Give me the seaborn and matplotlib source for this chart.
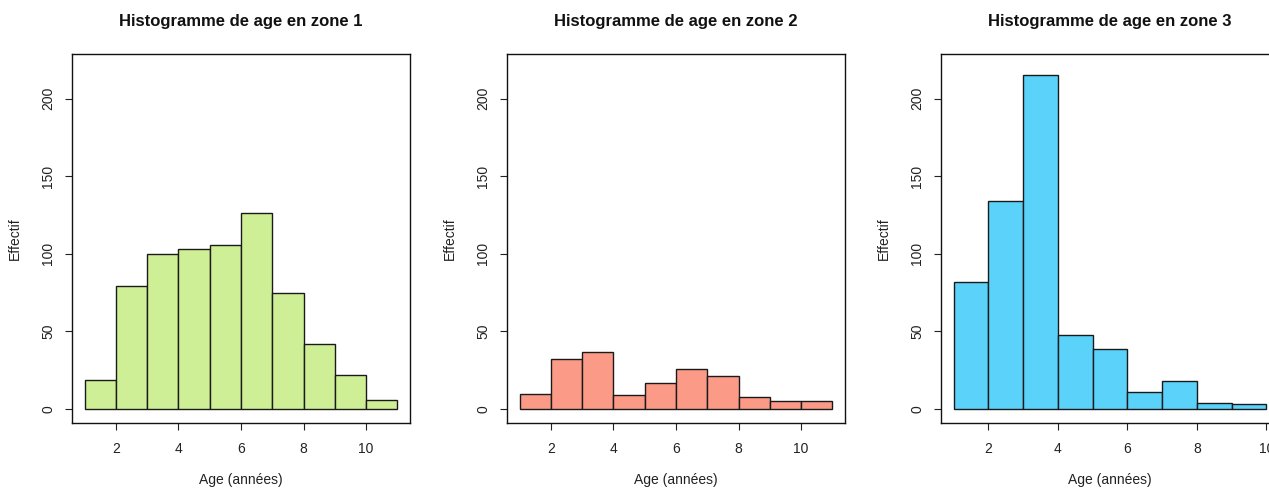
import numpy as np
import pandas as pd
import matplotlib
matplotlib.use("Agg")
import matplotlib.pyplot as plt
import seaborn as sns

# Data
edges_z1 = [1, 2, 3, 4, 5, 6, 7, 8, 9, 10, 11]
counts_z1 = [19, 79, 100, 103, 106, 126, 75, 42, 22, 6]
edges_z2 = [1, 2, 3, 4, 5, 6, 7, 8, 9, 10, 11]
counts_z2 = [10, 32, 37, 9, 17, 26, 21, 8, 5, 5]
edges_z3 = [1, 2, 3, 4, 5, 6, 7, 8, 9, 10]
counts_z3 = [82, 134, 215, 48, 39, 11, 18, 4, 3]
zones = ["1", "2", "3"]
colors = ["#CFEF96", "#FA9A87", "#5AD2FA"]
x_ticks = [2, 4, 6, 8, 10]
y_ticks = [0, 50, 100, 150, 200]

sns.set_style("ticks")
plt.rcParams['font.family'] = ['Liberation Sans', 'DejaVu Sans']

fig = plt.figure(figsize=(12.69, 4.90), dpi=100)
W, H = 1269.0, 490.0
lefts = [72, 507, 941]
width_px = 338
bottom = 1 - 422.7 / H
height = 368.8 / H

datasets = [(edges_z1, counts_z1), (edges_z2, counts_z2), (edges_z3, counts_z3)]
for i, ((edges, counts), zone, col) in enumerate(zip(datasets, zones, colors)):
    ax = fig.add_axes([lefts[i] / W, bottom, width_px / W, height])
    centers = [(edges[k] + edges[k + 1]) / 2 for k in range(len(counts))]
    df = pd.DataFrame({"age": centers, "n": counts})
    sns.histplot(data=df, x="age", weights="n", bins=edges, color=col,
                 edgecolor="#1a1a1a", linewidth=1.0, alpha=1, ax=ax)
    span = edges[-1] - edges[0]
    ax.set_xlim(edges[0] - 0.04 * span, edges[-1] + 0.04 * span)
    ax.set_ylim(-8.8, 228.8)
    ax.set_xticks(x_ticks)
    ax.set_yticks(y_ticks)
    ax.set_yticklabels([str(v) for v in y_ticks], rotation=90, va="center")
    ax.tick_params(axis="both", direction="out", length=5, width=0.8,
                   labelsize=10, colors="#222222")
    ax.tick_params(axis="x", pad=9)
    ax.tick_params(axis="y", pad=7)
    for s in ax.spines.values():
        s.set_visible(True)
        s.set_color("#111111")
        s.set_linewidth(1.0)
    ax.set_title(f"Histogramme de age en zone {zone}", fontsize=12,
                 fontweight="bold", pad=20, color="#111111")
    ax.set_xlabel("Age (années)", fontsize=10, labelpad=12, color="#222222")
    ax.set_ylabel("Effectif", fontsize=10, labelpad=14, color="#222222")

fig.savefig("out.png", dpi=100)
